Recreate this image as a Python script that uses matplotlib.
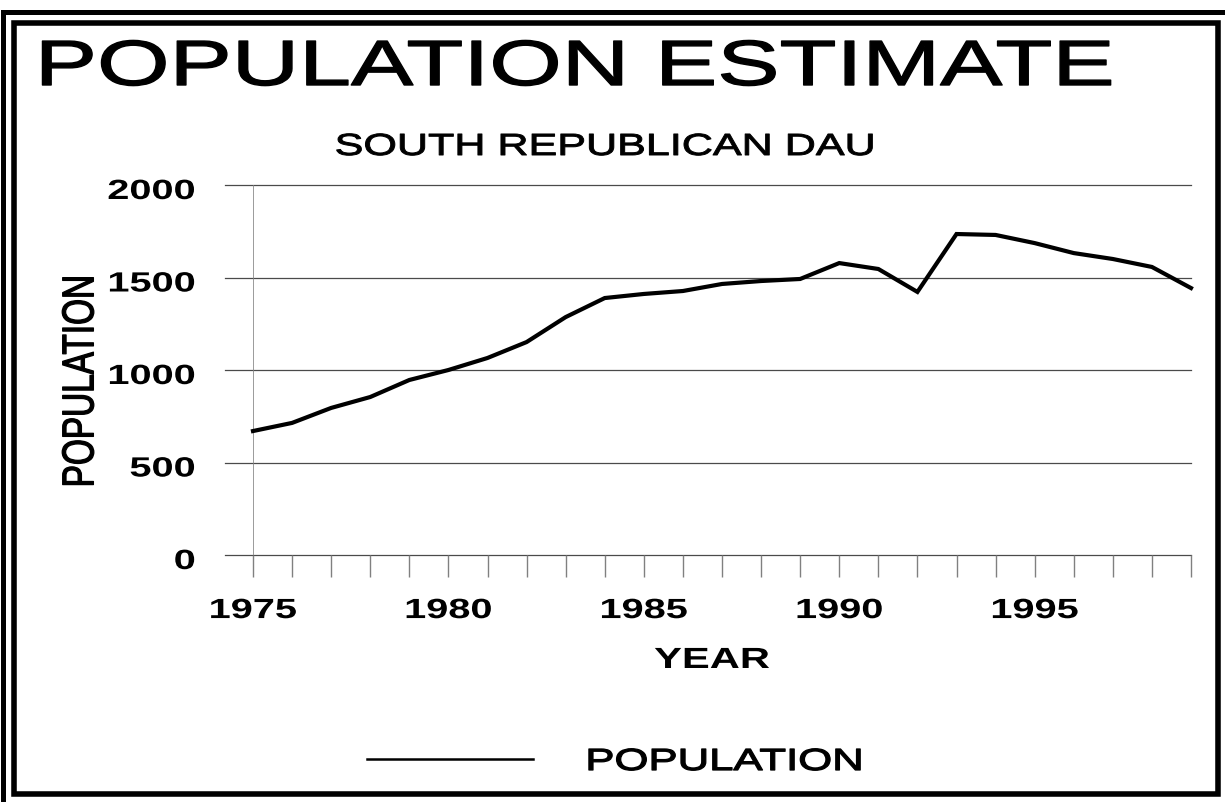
import matplotlib
matplotlib.use('Agg')
import matplotlib.pyplot as plt
from matplotlib.patheffects import AbstractPathEffect
from matplotlib.path import Path
from matplotlib.lines import Line2D
from matplotlib.patches import Rectangle
from matplotlib.transforms import ScaledTranslation

# ---------------- data ----------------
years = list(range(1975, 2000))
population = [670, 714, 795, 854, 946, 1000, 1065, 1151, 1286, 1389,
              1411, 1427, 1465, 1481, 1492, 1578, 1546, 1422, 1735, 1730,
              1686, 1632, 1600, 1557, 1443]
y_ticks = [0, 500, 1000, 1500, 2000]
x_label_years = [1975, 1980, 1985, 1990, 1995]

title = 'POPULATION ESTIMATE'
subtitle = 'SOUTH REPUBLICAN DAU'
x_label = 'YEAR'
y_label = 'POPULATION'
series_name = 'POPULATION'

W, H = 1225, 802
plt.rcParams['font.family'] = ['Liberation Sans', 'DejaVu Sans']


def fx(px):
    return px / W


def fy(py):
    return 1 - py / H


class Stretch(AbstractPathEffect):
    """Stretch glyphs along one direction of the text (old plotter look),
    optionally thickening them with an outline stroke."""

    def __init__(self, k, pivot='center', axis='x', stroke=0.0):
        super().__init__()
        self.k = k
        self.pivot = pivot
        self.axis = axis
        self.stroke = stroke

    def draw_path(self, renderer, gc, tpath, affine, rgbFace=None):
        v = tpath.vertices.copy()
        codes = tpath.codes
        i = 0 if self.axis == 'x' else 1
        if codes is not None:
            vals = v[codes != Path.CLOSEPOLY, i]
        else:
            vals = v[:, i]
        if len(vals):
            lo, hi = vals.min(), vals.max()
            c = {'center': (lo + hi) / 2, 'left': lo, 'right': hi}[self.pivot]
            v[:, i] = c + self.k * (v[:, i] - c)
        gc0 = renderer.new_gc()
        gc0.copy_properties(gc)
        gc0.set_linewidth(self.stroke)
        if rgbFace is not None:
            gc0.set_foreground(rgbFace)
        renderer.draw_path(gc0, Path(v, codes), affine, rgbFace)
        gc0.restore()


K = 1.43

fig = plt.figure(figsize=(W / 100, H / 100), dpi=100)
fig.patch.set_facecolor('white')

ax = fig.add_axes([fx(253), fy(555), (1191 - 253) / W, 370 / H])
ax.set_xlim(1975, 1999)
ax.set_ylim(0, 2000)
for s in ax.spines.values():
    s.set_visible(False)
ax.patch.set_visible(False)

# horizontal grid lines (extend a little left of the y axis)
grid_ext = -28 / 938
for v in y_ticks:
    ax.plot([grid_ext, 1], [v, v], transform=ax.get_yaxis_transform(),
            color='#4a4a4a', lw=0.9, clip_on=False, zorder=1)
ax.axvline(1975, color='#808080', lw=1.1, zorder=1)

# data line
line, = ax.plot(years, population, color='black', lw=3.0,
                solid_joinstyle='miter', zorder=3, clip_on=False)

# ticks
ax.set_xticks(x_label_years)
ax.set_xticklabels([str(y) for y in x_label_years])
ax.set_xticks(years, minor=True)
ax.tick_params(axis='x', which='both', direction='out', length=16,
               width=1.0, color='#808080', pad=15)
ax.set_yticks(y_ticks)
ax.set_yticklabels([str(v) for v in y_ticks])
ax.tick_params(axis='y', length=0, pad=41.5)
for t in ax.get_xticklabels() + ax.get_yticklabels():
    t.set_fontsize(20)
    t.set_fontweight('bold')

# axis labels
ax.set_xlabel(x_label, fontsize=21, fontweight='bold')
ax.xaxis.set_label_coords((712 - 253) / 938, (555 - 668) / 370)
ax.xaxis.label.set_va('baseline')
ax.xaxis.label.set_path_effects([Stretch(K)])

ax.set_ylabel(y_label, fontsize=24, va='center')
ax.yaxis.set_label_coords((81 - 253) / 938, (555 - 381) / 370)
ax.yaxis.label.set_path_effects([Stretch(1.34, axis='y', stroke=0.9)])

# titles
fig.text(fx(575), fy(85), title, ha='center', va='baseline', fontsize=46,
         path_effects=[Stretch(1.46, stroke=1.0)])
fig.text(fx(604.5), fy(155), subtitle, ha='center', va='baseline',
         fontsize=22, path_effects=[Stretch(1.41, stroke=0.7)])

# legend
leg = fig.legend([line], [series_name], loc='center',
                 bbox_to_anchor=(fx(594), fy(762)), frameon=False,
                 handlelength=5.46, handletextpad=3.07, borderpad=0,
                 borderaxespad=0, prop=dict(size=22))
leg.get_lines()[0].set_linewidth(1.8)
for t in leg.get_texts():
    t.set_path_effects([Stretch(1.43, stroke=0.9)])

# frames
fig.add_artist(Rectangle((fx(14), fy(794)), fx(1218) - fx(14),
                         fy(22.5) - fy(794), transform=fig.transFigure,
                         fill=False, ec='black', lw=4, joinstyle='miter'))
fig.add_artist(Line2D([fx(3), fx(3), fx(1260)], [fy(840), fy(11.5), fy(11.5)],
                      transform=fig.transFigure, color='black', lw=3.6,
                      solid_joinstyle='miter'))

fig.canvas.draw()
for t in ax.get_xticklabels():
    t.set_path_effects([Stretch(K)])
for t in ax.get_yticklabels():
    t.set_path_effects([Stretch(K, pivot='right')])
    t.set_transform(t.get_transform() +
                    ScaledTranslation(0, -4 / 100, fig.dpi_scale_trans))

fig.savefig('out.png', dpi=100)
